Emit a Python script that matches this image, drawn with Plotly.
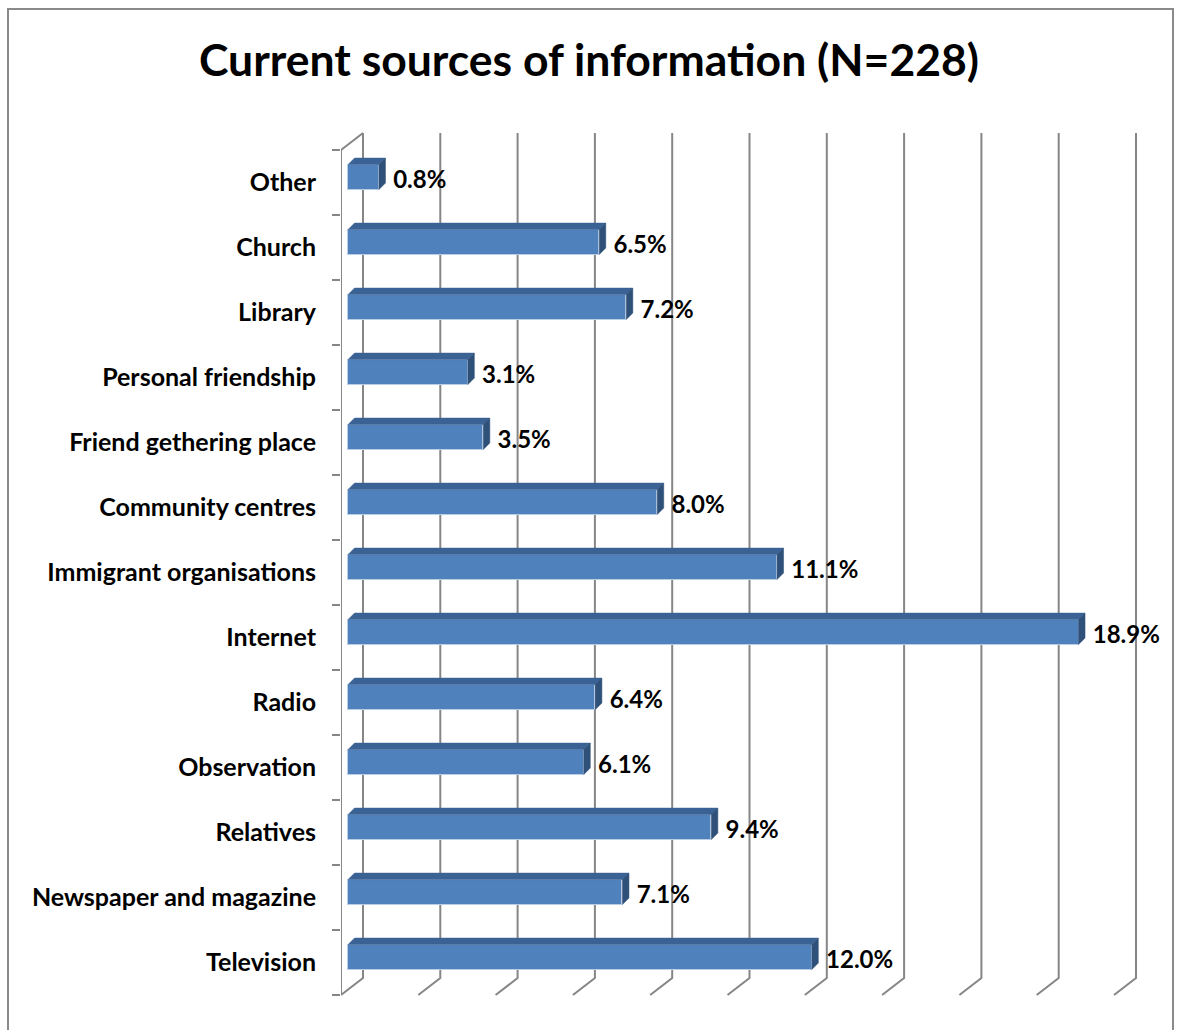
import plotly.graph_objects as go

# Survey results, listed bottom-to-top as drawn on the category axis
categories = [
    "Television", "Newspaper and magazine", "Relatives", "Observation", "Radio",
    "Internet", "Immigrant organisations", "Community centres",
    "Friend gethering place", "Personal friendship", "Library", "Church", "Other",
]
shares = [12.0, 7.1, 9.4, 6.1, 6.4, 18.9, 11.1, 8.0, 3.5, 3.1, 7.2, 6.5, 0.8]
grid_values = list(range(0, 21, 2))
title_text = "Current sources of information (N=228)"

# ---- geometry of the pseudo-3D frame (in axis units) ----
W, H = 1178, 1030
M_L, M_R, M_T, M_B = 341, 0, 120, 30
PX_X = 38.65          # pixels per percentage point
PX_Y = 65.0           # pixels per category slot
X_RANGE = [0, (W - M_L - M_R) / PX_X]
Y_RANGE = [-0.5 - (H - M_B - 995) / PX_Y, -0.5 + (995 - M_T) / PX_Y]

WALL_DX = 22 / PX_X   # depth of the floor / wall
WALL_DY = 17 / PX_Y
FRONT_FRAC = 0.32     # bars sit part-way into the depth
BAR_DX = 6.5 / PX_X   # visible bar depth
BAR_DY = 6.5 / PX_Y
BAR_H = 25 / PX_Y

GRID_COLOR = "#868686"
FRONT_COLOR = "#4f81bd"
TOP_COLOR = "#3b6294"
SIDE_COLOR = "#2f5078"
EDGE_COLOR = "#b9cde5"
FONT = "Lato"

n = len(categories)
y_lo, y_hi = -0.5, n - 0.5
off_x = FRONT_FRAC * WALL_DX
off_y = FRONT_FRAC * WALL_DY

fig = go.Figure()

# front faces of the bars
fig.add_trace(go.Bar(
    y=[i + off_y for i in range(n)],
    x=shares,
    base=[off_x] * n,
    orientation="h",
    width=BAR_H,
    marker=dict(color=FRONT_COLOR, line=dict(color=EDGE_COLOR, width=1)),
    hoverinfo="skip",
    showlegend=False,
))

# top and side faces of the bars
top_x, top_y, side_x, side_y = [], [], [], []
for i, v in enumerate(shares):
    x0, x1 = off_x, off_x + v
    yb = i + off_y - BAR_H / 2
    yt = i + off_y + BAR_H / 2
    top_x += [x0, x1, x1 + BAR_DX, x0 + BAR_DX, x0, None]
    top_y += [yt, yt, yt + BAR_DY, yt + BAR_DY, yt, None]
    side_x += [x1, x1, x1 + BAR_DX, x1 + BAR_DX, x1, None]
    side_y += [yb, yt, yt + BAR_DY, yb + BAR_DY, yb, None]

fig.add_trace(go.Scatter(
    x=top_x, y=top_y, mode="lines", fill="toself",
    fillcolor=TOP_COLOR, line=dict(color=TOP_COLOR, width=0.5),
    hoverinfo="skip", showlegend=False,
))
fig.add_trace(go.Scatter(
    x=side_x, y=side_y, mode="lines", fill="toself",
    fillcolor=SIDE_COLOR, line=dict(color=SIDE_COLOR, width=0.5),
    hoverinfo="skip", showlegend=False,
))

# value labels
fig.add_trace(go.Scatter(
    x=[off_x + v + BAR_DX + 0.2 for v in shares],
    y=[i + off_y - 0.07 for i in range(n)],
    mode="text",
    text=[f"{v:.1f}%" for v in shares],
    textposition="middle right",
    textfont=dict(family=FONT, size=24, color="black", weight=700),
    hoverinfo="skip", showlegend=False,
))

# gridlines: back wall verticals folding onto the floor
shapes = []
for g in grid_values:
    xb = g + WALL_DX
    path = f"M {xb},{y_hi + WALL_DY} L {xb},{y_lo + WALL_DY} L {g},{y_lo}"
    shapes.append(dict(type="path", path=path, xref="x", yref="y",
                       line=dict(color=GRID_COLOR, width=2), layer="below"))
# side wall front edge and its top fold
shapes.append(dict(type="path", xref="x", yref="y", layer="below",
                   path=f"M {WALL_DX},{y_hi + WALL_DY} L 0,{y_hi} L 0,{y_lo}",
                   line=dict(color=GRID_COLOR, width=2)))
# chart border
px_to_paper_x = lambda p: (p - M_L) / (W - M_L - M_R)
px_to_paper_y = lambda p: (H - M_B - p) / (H - M_T - M_B)
shapes.append(dict(type="rect", xref="paper", yref="paper", layer="below",
                   x0=px_to_paper_x(8), x1=px_to_paper_x(1173),
                   y0=px_to_paper_y(1040), y1=px_to_paper_y(9),
                   line=dict(color="#8a8a8a", width=2)))

fig.update_layout(
    width=W, height=H,
    margin=dict(l=M_L, r=M_R, t=M_T, b=M_B, autoexpand=False),
    paper_bgcolor="white", plot_bgcolor="white",
    bargap=0,
    shapes=shapes,
    title=dict(text=title_text, x=0.5, xref="container", xanchor="center",
               y=1 - 60 / H, yref="container", yanchor="middle",
               font=dict(family=FONT, size=44.5, color="black", weight=700)),
    xaxis=dict(range=X_RANGE, showgrid=False, zeroline=False,
               showline=False, showticklabels=False, ticks=""),
    yaxis=dict(range=Y_RANGE, showgrid=False, zeroline=False, showline=False,
               tickmode="array", tickvals=list(range(n)), ticktext=categories,
               ticks="", ticklabelstandoff=24,
               tickfont=dict(family=FONT, size=25, color="black", weight=700),
               minor=dict(tickmode="array", tickvals=[i - 0.5 for i in range(n + 1)],
                          ticks="outside", ticklen=8, tickwidth=2,
                          tickcolor=GRID_COLOR, showgrid=False)),
)

fig.write_html("out.html")
